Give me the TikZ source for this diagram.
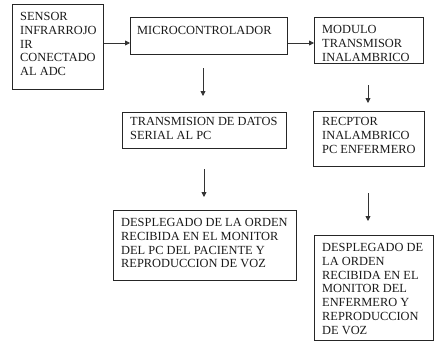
\documentclass[tikz,border=0pt]{standalone}
\usepackage{fontspec}
\setmainfont{Liberation Serif}
\usetikzlibrary{arrows.meta}
\tikzset{
  blk/.style={draw=black!85, line width=0.8pt, rectangle, inner sep=0pt, anchor=north west},
  txt/.style={anchor=north west, inner sep=0pt, align=left, text=black!90,
     font=\fontsize{12.4}{13.8}\selectfont},
  arr/.style={draw=black!80, line width=0.8pt, -{Triangle[length=5pt,width=5pt]}}
}
\begin{document}
\begin{tikzpicture}[x=1pt,y=-1pt]
\useasboundingbox (0,0) rectangle (434,343);
% boxes
\node[blk, minimum width=91pt, minimum height=85pt] (sensor) at (12,4) {};
\node[blk, minimum width=157pt, minimum height=37pt] (micro) at (130,17) {};
\node[blk, minimum width=109pt, minimum height=46pt] (modulo) at (314,17) {};
\node[blk, minimum width=164pt, minimum height=36pt] (trans) at (122,112) {};
\node[blk, minimum width=111pt, minimum height=55pt] (recp) at (313,111) {};
\node[blk, minimum width=183pt, minimum height=70pt] (despl1) at (113,210) {};
\node[blk, minimum width=119pt, minimum height=105pt] (despl2) at (314,235) {};
% texts
\node[txt] (t1) at ([shift={(8,8)}]sensor.north west) {SENSOR\\INFRARROJO\\IR\\CONECTADO\\AL ADC};
\node[txt] (t2) at ([shift={(7,9)}]micro.north west) {MICROCONTROLADOR};
\node[txt] (t3) at ([shift={(8,8)}]modulo.north west) {MODULO\\TRANSMISOR\\INALAMBRICO};
\node[txt] (t4) at ([shift={(8,5)}]trans.north west) {TRANSMISION DE DATOS\\SERIAL AL PC};
\node[txt] (t5) at ([shift={(9,6)}]recp.north west) {RECPTOR\\INALAMBRICO\\PC ENFERMERO};
\node[txt] (t6) at ([shift={(8,8)}]despl1.north west) {DESPLEGADO DE LA ORDEN\\RECIBIDA EN EL MONITOR\\DEL PC DEL PACIENTE Y\\REPRODUCCION DE VOZ};
\node[txt] (t7) at ([shift={(8,8)}]despl2.north west) {DESPLEGADO DE\\LA ORDEN\\RECIBIDA EN EL\\MONITOR DEL\\ENFERMERO Y\\REPRODUCCION\\DE VOZ};
% connectors
\coordinate (r1) at (0,43);
\draw[arr] (sensor.east |- r1) -- (micro.west |- r1);
\draw[arr] (micro.east |- r1) -- (modulo.west |- r1);
\coordinate (v1a) at (203,68); \coordinate (v1b) at (203,96);
\coordinate (v2a) at (368,85); \coordinate (v2b) at (368,103);
\coordinate (v3a) at (204,169); \coordinate (v3b) at (204,197);
\coordinate (v4a) at (368,193); \coordinate (v4b) at (368,221);
\draw[arr] (v1a) -- (v1b);
\draw[arr] (v2a) -- (v2b);
\draw[arr] (v3a) -- (v3b);
\draw[arr] (v4a) -- (v4b);
\end{tikzpicture}
\end{document}
